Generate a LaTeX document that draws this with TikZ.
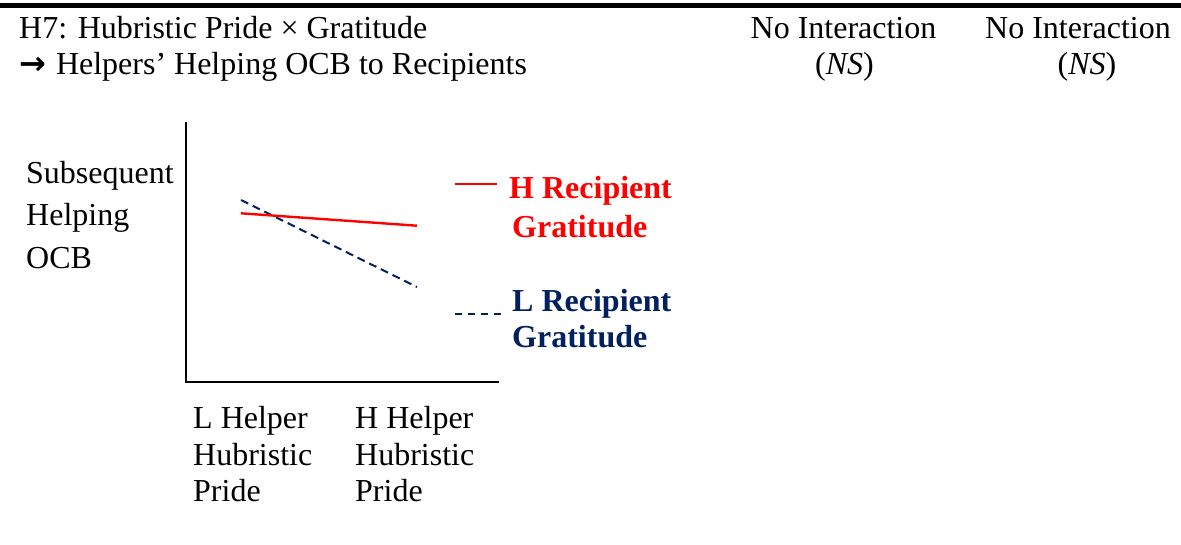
\documentclass[tikz,border=0pt]{standalone}
\usepackage{fontspec}
\setmainfont{Liberation Serif}
\newfontfamily\arrowfont{DejaVu Sans}
\definecolor{lowblue}{HTML}{002060}
\definecolor{highred}{HTML}{FF0000}
\begin{document}
\begin{tikzpicture}[x=1pt,y=-1pt,
  txt/.style={inner sep=0pt,anchor=base west,font=\fontsize{32}{38}\selectfont},
  ctxt/.style={inner sep=0pt,anchor=base,font=\fontsize{32}{38}\selectfont},
  legtxt/.style={txt,font=\fontsize{32}{38}\selectfont\bfseries},
  axis/.style={line width=2pt,black},
  hiline/.style={line width=2.4pt,highred},
  loline/.style={line width=2pt,lowblue,dash pattern=on 8pt off 5pt}]
\useasboundingbox (0,0) rectangle (1181,544);
% heavy rule across the top
\coordinate (ruleL) at (0,5.8);
\coordinate (ruleR) at (1181,5.8);
\draw[line width=5pt] (ruleL) -- (ruleR);
% heading
\node[txt] (h1) at (19,38) {H7: Hubristic Pride × Gratitude};
\node[txt] (h2) at (19,74.5) {{\arrowfont\bfseries →}\hspace{2pt} Helpers’ Helping OCB to Recipients};
\node[ctxt] (ni1) at (843.5,38) {No Interaction};
\node[ctxt] (ns1) at (844.5,74.5) {(\textit{NS})};
\node[ctxt] (ni2) at (1078,38) {No Interaction};
\node[ctxt] (ns2) at (1087,74.5) {(\textit{NS})};
% axes
\coordinate (ytop) at (186,122);
\coordinate (origin) at (186,382);
\coordinate (xend) at (499,382);
\draw[axis] (ytop) -- (origin) -- (xend);
% axis labels
\node[txt] (y1) at (26,183.5) {Subsequent};
\node[txt] (y2) at (26,225.5) {Helping};
\node[txt] (y3) at (26,268.5) {OCB};
\node[txt] (xl1) at (193,428.5) {L Helper};
\node[txt] (xl2) at (193,465) {Hubristic};
\node[txt] (xl3) at (193,501) {Pride};
\node[txt] (xh1) at (355,428.5) {H Helper};
\node[txt] (xh2) at (355,465) {Hubristic};
\node[txt] (xh3) at (355,501) {Pride};
% plotted lines
\coordinate (hiA) at (241,213.3);
\coordinate (hiB) at (417,225.7);
\coordinate (loA) at (241,200);
\coordinate (loB) at (417,287);
\draw[loline] (loA) -- (loB);
\draw[hiline] (hiA) -- (hiB);
% legend
\coordinate (lgHa) at (455,184);
\coordinate (lgHb) at (497,184);
\draw[hiline] (lgHa) -- (lgHb);
\node[legtxt,text=highred] (lh1) at (509,198.5) {H Recipient};
\node[legtxt,text=highred] (lh2) at (512,237) {Gratitude};
\coordinate (lgLa) at (455,314);
\coordinate (lgLb) at (503,314);
\draw[loline,dash pattern=on 7pt off 6pt] (lgLa) -- (lgLb);
\node[legtxt,text=lowblue] (ll1) at (512,311) {L Recipient};
\node[legtxt,text=lowblue] (ll2) at (512,347) {Gratitude};
\end{tikzpicture}
\end{document}
